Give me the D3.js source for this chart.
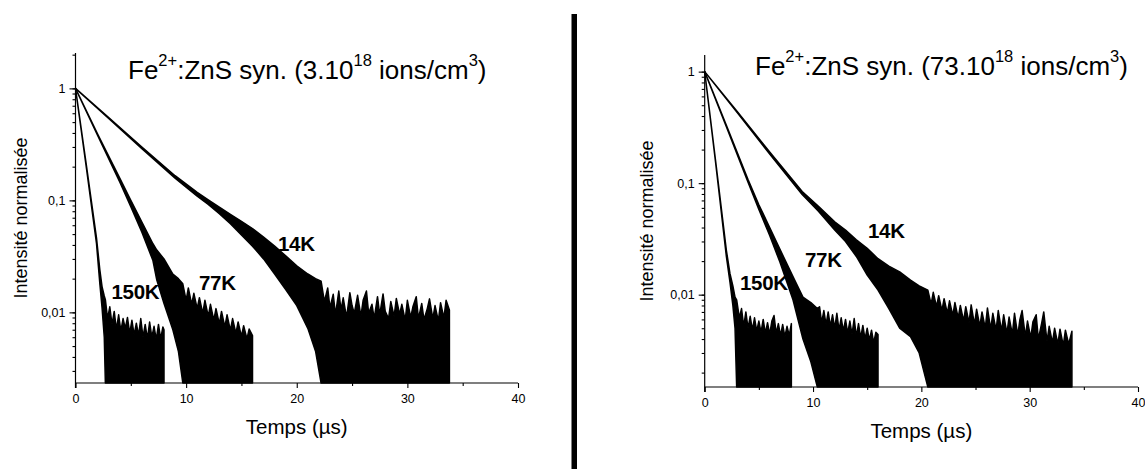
<!DOCTYPE html>
<html><head><meta charset="utf-8">
<script src="https://cdn.jsdelivr.net/npm/d3@7"></script>
<style>body{margin:0;background:#fff}svg{display:block}text{font-family:"Liberation Sans",Arial,sans-serif;fill:#000}</style>
</head><body>
<svg id="c" width="1145" height="469"></svg>
<script>
// ---------- data ----------
const xTicksMajor = [0, 10, 20, 30, 40];
const xTicksMinor = [5, 15, 25, 35];
const yTickLabels = [[1, "1"], [0.1, "0,1"], [0.01, "0,01"]];
const leftYDomain = [0.00234, 2.07];
const rightYDomain = [0.001486, 1.41];
const xDomain = [0, 40];
const curveLabels = ["14K", "77K", "150K"];
const leftConc = "3.10", rightConc = "73.10";

// LEFT panel (3.10^18 ions/cm3): clean decay band (t, hi, lo) then noise floor (t, hi)
const L14_t  = [0, 3, 6, 9, 11, 12, 13, 14, 15, 16, 17, 18, 19, 20, 21, 21.7, 22.2];
const L14_hi = [1, 0.55, 0.30, 0.166, 0.118, 0.101, 0.087, 0.075, 0.065, 0.056, 0.047, 0.039, 0.032, 0.026, 0.022, 0.020, 0.019];
const L14_lo = [1, 0.54, 0.29, 0.158, 0.109, 0.092, 0.076, 0.062, 0.049, 0.039, 0.030, 0.022, 0.016, 0.0115, 0.0072, 0.0045, 0.002];
const L14_nt = [22.5, 22.8, 23.0, 23.3, 23.5, 23.8, 24.0, 24.2, 24.5, 24.8, 25.0, 25.2, 25.5, 25.8, 26.0, 26.3, 26.5, 26.8, 27.0, 27.3, 27.5, 27.8, 28.0, 28.3, 28.5, 28.8, 29.0, 29.3, 29.5, 29.8, 30.0, 30.3, 30.5, 30.8, 31.0, 31.3, 31.5, 31.8, 32.0, 32.3, 32.5, 32.8, 33.0, 33.3, 33.5, 33.8];
const L14_nh = [0.0125, 0.0165, 0.011, 0.0145, 0.0095, 0.0155, 0.0105, 0.0135, 0.009, 0.015, 0.0115, 0.0098, 0.0142, 0.0092, 0.0128, 0.0155, 0.0098, 0.0118, 0.0088, 0.0138, 0.0095, 0.0146, 0.0102, 0.0088, 0.0125, 0.0092, 0.0133, 0.0096, 0.0118, 0.0085, 0.0128, 0.009, 0.0112, 0.0138, 0.0088, 0.012, 0.0086, 0.0108, 0.0132, 0.0088, 0.0115, 0.0084, 0.0122, 0.0089, 0.0128, 0.0105];

const L77_t  = [0, 2, 4, 5, 6, 7, 7.35, 8, 8.8, 9.3, 9.7];
const L77_hi = [1, 0.39, 0.158, 0.100, 0.064, 0.041, 0.036, 0.030, 0.022, 0.020, 0.018];
const L77_lo = [1, 0.38, 0.146, 0.088, 0.052, 0.029, 0.0194, 0.012, 0.007, 0.0045, 0.002];
const L77_nt = [10.0, 10.2, 10.5, 10.7, 11.0, 11.2, 11.5, 11.7, 12.0, 12.2, 12.5, 12.7, 13.0, 13.2, 13.5, 13.7, 14.0, 14.2, 14.5, 14.7, 15.0, 15.2, 15.5, 15.7, 16.0];
const L77_nh = [0.0128, 0.0165, 0.0118, 0.0148, 0.0108, 0.0135, 0.0098, 0.0128, 0.0092, 0.0118, 0.0085, 0.0108, 0.0079, 0.0102, 0.0074, 0.0095, 0.0069, 0.0088, 0.0065, 0.0082, 0.0061, 0.0076, 0.0058, 0.0071, 0.0062];

const L150_t  = [0, 1.0, 1.9, 2.2, 2.4, 2.6, 2.7];
const L150_hi = [1, 0.2, 0.046, 0.024, 0.017, 0.014, 0.013];
const L150_lo = [1, 0.19, 0.041, 0.018, 0.011, 0.006, 0.002];
const L150_nt = [2.9, 3.1, 3.3, 3.5, 3.7, 3.9, 4.1, 4.3, 4.5, 4.7, 4.9, 5.1, 5.3, 5.5, 5.7, 5.9, 6.1, 6.3, 6.5, 6.7, 6.9, 7.1, 7.3, 7.5, 7.7, 7.9, 8.0];
const L150_nh = [0.0088, 0.0112, 0.0078, 0.0102, 0.007, 0.0095, 0.0068, 0.0088, 0.0072, 0.009, 0.0065, 0.0085, 0.0063, 0.008, 0.0062, 0.0088, 0.006, 0.0078, 0.0058, 0.0082, 0.006, 0.0075, 0.0057, 0.0078, 0.0058, 0.0074, 0.007];

// RIGHT panel (73.10^18 ions/cm3)
const R14_t  = [0, 3, 6, 9, 10.5, 12, 13, 14, 15, 16, 17, 18, 19, 19.8, 20.6];
const R14_hi = [1, 0.44, 0.19, 0.084, 0.062, 0.045, 0.038, 0.031, 0.026, 0.021, 0.018, 0.016, 0.0135, 0.012, 0.011];
const R14_lo = [1, 0.43, 0.182, 0.079, 0.056, 0.038, 0.030, 0.022, 0.015, 0.011, 0.0075, 0.005, 0.0042, 0.003, 0.001];
const R14_nt = [20.9, 21.1, 21.4, 21.6, 21.9, 22.1, 22.4, 22.6, 22.9, 23.1, 23.4, 23.6, 23.9, 24.1, 24.4, 24.6, 24.9, 25.1, 25.4, 25.6, 25.9, 26.1, 26.4, 26.6, 26.9, 27.1, 27.4, 27.6, 27.9, 28.1, 28.4, 28.6, 28.9, 29.1, 29.3, 29.6, 29.8, 30.1, 30.3, 30.6, 30.8, 31.1, 31.3, 31.6, 31.8, 32.1, 32.3, 32.6, 32.8, 33.1, 33.3, 33.6, 33.9];
const R14_nh = [0.0082, 0.0105, 0.0078, 0.0098, 0.0072, 0.0092, 0.0068, 0.0088, 0.0065, 0.0085, 0.0062, 0.008, 0.0058, 0.0078, 0.0056, 0.0081, 0.0054, 0.0074, 0.0052, 0.007, 0.005, 0.0076, 0.0049, 0.0068, 0.0048, 0.0072, 0.0047, 0.0066, 0.0045, 0.0063, 0.0044, 0.0068, 0.0043, 0.006, 0.0072, 0.0042, 0.0058, 0.0041, 0.0057, 0.0066, 0.004, 0.0055, 0.007, 0.0038, 0.0052, 0.0037, 0.005, 0.0036, 0.0049, 0.0035, 0.0048, 0.0036, 0.0047];

const R77_t  = [0, 2, 4, 5, 6, 6.95, 8.15, 9.07, 9.8, 10.4];
const R77_hi = [1, 0.33, 0.108, 0.064, 0.04, 0.0255, 0.0145, 0.0095, 0.0085, 0.0075];
const R77_lo = [1, 0.32, 0.102, 0.058, 0.034, 0.0195, 0.009, 0.004, 0.0025, 0.001];
const R77_nt = [10.6, 10.8, 11.0, 11.2, 11.4, 11.6, 11.8, 12.0, 12.2, 12.4, 12.6, 12.8, 13.0, 13.2, 13.4, 13.6, 13.8, 14.0, 14.2, 14.4, 14.6, 14.8, 15.0, 15.2, 15.4, 15.6, 15.8, 16.0];
const R77_nh = [0.0078, 0.0056, 0.0072, 0.0054, 0.007, 0.0052, 0.0066, 0.005, 0.0068, 0.0048, 0.0062, 0.0047, 0.006, 0.0045, 0.0058, 0.0044, 0.0061, 0.0042, 0.0055, 0.0041, 0.0053, 0.004, 0.005, 0.0039, 0.0048, 0.0037, 0.0046, 0.0044];

const R150_t  = [0, 1.0, 1.41, 2.0, 2.33, 2.6, 2.8, 2.95];
const R150_hi = [1, 0.16, 0.075, 0.025, 0.0155, 0.012, 0.0095, 0.009];
const R150_lo = [1, 0.155, 0.07, 0.022, 0.013, 0.008, 0.005, 0.001];
const R150_nt = [3.2, 3.4, 3.6, 3.8, 4.0, 4.2, 4.4, 4.6, 4.8, 5.0, 5.2, 5.4, 5.6, 5.8, 6.0, 6.2, 6.4, 6.6, 6.8, 7.0, 7.2, 7.4, 7.6, 7.8, 8.0];
const R150_nh = [0.0062, 0.0075, 0.0052, 0.007, 0.005, 0.0064, 0.0048, 0.0062, 0.0047, 0.0058, 0.0046, 0.006, 0.0045, 0.0056, 0.0044, 0.0058, 0.0065, 0.0045, 0.0055, 0.0043, 0.0054, 0.0042, 0.0052, 0.0043, 0.0055];

// ---------- drawing ----------
const svg = d3.select("#c");
svg.append("rect").attr("width", 1145).attr("height", 469).attr("fill", "#fff");

function build(t, hi, lo, nt, nh, floor) {
  const out = t.map((v, i) => ({t: v, hi: hi[i], lo: lo[i]}));
  nt.forEach((v, i) => out.push({t: v, hi: nh[i], lo: floor}));
  return out;
}

function panel(cfg) {
  const x = d3.scaleLinear().domain(xDomain).range([cfg.x0, cfg.x1]);
  const y = d3.scaleLog().domain(cfg.yDomain).range([cfg.yb, cfg.yt]).clamp(true);
  const g = svg.append("g");

  const area = d3.area().x(d => x(d.t)).y0(d => y(d.lo)).y1(d => y(d.hi)).curve(d3.curveLinear);
  cfg.series.forEach(s => {
    g.append("path").datum(s).attr("d", area)
      .attr("fill", "#000").attr("stroke", "#000").attr("stroke-width", 1.5)
      .attr("stroke-linejoin", "round");
  });

  // y axis
  const yMinor = [];
  for (let e = -3; e <= 0; e++) for (let m = 1; m <= 9; m++) {
    const v = m * Math.pow(10, e);
    if (v >= cfg.yDomain[0] && v <= cfg.yDomain[1]) yMinor.push(v);
  }
  g.append("g").attr("transform", `translate(${cfg.x0},0)`)
    .call(d3.axisLeft(y).tickValues(yMinor).tickSize(3).tickFormat(""))
    .call(a => a.select(".domain").remove());
  g.append("g").attr("transform", `translate(${cfg.x0},0)`)
    .call(d3.axisLeft(y).tickValues(yTickLabels.map(d => d[0])).tickSize(6).tickPadding(4)
      .tickFormat(v => yTickLabels.find(d => d[0] === v)[1]))
    .call(a => a.select(".domain").remove())
    .call(a => a.selectAll("text").attr("font-size", 12.5).attr("font-family", '"Liberation Sans",Arial,sans-serif'));
  g.append("line").attr("x1", cfg.x0).attr("x2", cfg.x0).attr("y1", cfg.yt).attr("y2", cfg.yb + 5)
    .attr("stroke", "#000").attr("stroke-width", 1.2);

  // x axis
  g.append("g").attr("transform", `translate(0,${cfg.yb})`)
    .call(d3.axisBottom(x).tickValues(xTicksMinor).tickSize(3).tickFormat(""))
    .call(a => a.select(".domain").remove());
  g.append("g").attr("transform", `translate(0,${cfg.yb})`)
    .call(d3.axisBottom(x).tickValues(xTicksMajor).tickSize(5).tickPadding(6).tickFormat(d3.format("d")))
    .call(a => a.select(".domain").remove())
    .call(a => a.selectAll("text").attr("font-size", 12.5).attr("font-family", '"Liberation Sans",Arial,sans-serif'));
  g.append("line").attr("x1", cfg.x0).attr("x2", cfg.x1).attr("y1", cfg.yb).attr("y2", cfg.yb)
    .attr("stroke", "#000").attr("stroke-width", 1.2);
  g.selectAll(".tick line").attr("stroke", "#000").attr("stroke-width", 1.1);

  // axis titles
  g.append("text").attr("x", (cfg.x0 + cfg.x1) / 2).attr("y", cfg.yb + 51)
    .attr("text-anchor", "middle").attr("font-size", 20.5).text("Temps (µs)");
  g.append("text").attr("transform", `translate(${cfg.ylabX},${(cfg.yt + cfg.yb) / 2}) rotate(-90)`)
    .attr("text-anchor", "middle").attr("font-size", 18).text("Intensité normalisée");

  // title
  const tt = g.append("text").attr("x", cfg.titleX).attr("y", cfg.titleY).attr("font-size", 26);
  tt.append("tspan").text("Fe");
  tt.append("tspan").attr("dy", -13.5).attr("font-size", 16.5).text("2+");
  tt.append("tspan").attr("dy", 13.5).text(":ZnS syn. (" + cfg.conc);
  tt.append("tspan").attr("dy", -13.5).attr("font-size", 16.5).text("18");
  tt.append("tspan").attr("dy", 13.5).text(" ions/cm");
  tt.append("tspan").attr("dy", -13.5).attr("font-size", 16.5).text("3");
  tt.append("tspan").attr("dy", 13.5).text(")");

  // curve labels
  cfg.labels.forEach((p, i) => {
    g.append("text").attr("x", p[0]).attr("y", p[1]).attr("font-size", 20.5)
      .attr("font-weight", "bold").attr("letter-spacing", -0.3).text(curveLabels[i]);
  });
}

panel({
  x0: 75.5, x1: 518, yt: 53, yb: 383, yDomain: leftYDomain, ylabX: 27,
  titleX: 128, titleY: 79, conc: leftConc,
  labels: [[278, 251], [199, 290], [111.5, 299]],
  series: [
    build(L14_t, L14_hi, L14_lo, L14_nt, L14_nh, 0.002),
    build(L77_t, L77_hi, L77_lo, L77_nt, L77_nh, 0.002),
    build(L150_t, L150_hi, L150_lo, L150_nt, L150_nh, 0.002)
  ]
});
panel({
  x0: 704.7, x1: 1138, yt: 55, yb: 387, yDomain: rightYDomain, ylabX: 653,
  titleX: 755, titleY: 75, conc: rightConc,
  labels: [[868, 238], [805, 266.5], [740, 290]],
  series: [
    build(R14_t, R14_hi, R14_lo, R14_nt, R14_nh, 0.001),
    build(R77_t, R77_hi, R77_lo, R77_nt, R77_nh, 0.001),
    build(R150_t, R150_hi, R150_lo, R150_nt, R150_nh, 0.001)
  ]
});

// separator bar
svg.append("rect").attr("x", 571.5).attr("y", 14).attr("width", 5.5).attr("height", 455).attr("fill", "#000");
</script>
</body></html>
